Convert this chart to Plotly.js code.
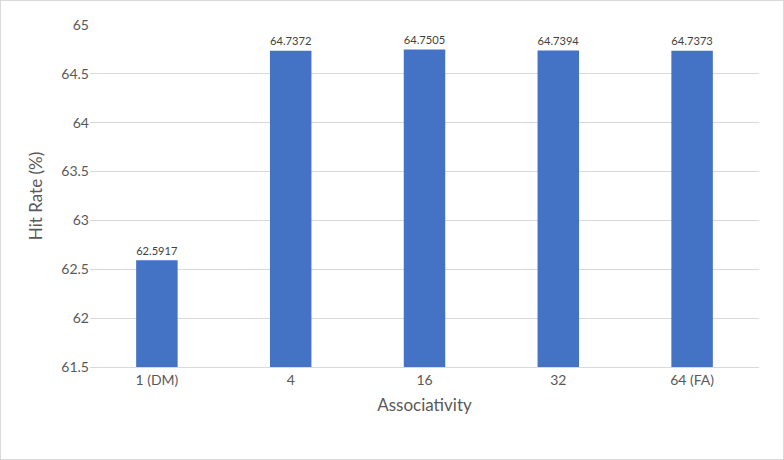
<!DOCTYPE html>
<html><head><script src="https://cdn.plot.ly/plotly-3.0.1.min.js"></script>
<style>body{margin:0}#c{width:782px;height:458px;border:1px solid #d9d9d9}</style></head>
<body><div id="c"></div><script>
const categories=["1 (DM)","4","16","32","64 (FA)"];
const hitRate=[62.5917,64.7372,64.7505,64.7394,64.7373];
const labels=["62.5917","64.7372","64.7505","64.7394","64.7373"];
Plotly.newPlot('c',[{type:'bar',x:categories,y:hitRate,text:labels,textposition:'outside',
 textfont:{size:15,color:'#404040'},marker:{color:'#4472c4'},cliponaxis:false}],
{width:782,height:458,margin:{l:89,r:24,t:24,b:92},bargap:0.69,
 paper_bgcolor:'#fff',plot_bgcolor:'#fff',font:{family:'Lato, Open Sans, sans-serif',color:'#595959',size:14},
 xaxis:{type:'category',title:{text:'Associativity',font:{size:17},standoff:12},showline:true,linecolor:'#d9d9d9',ticks:''},
 yaxis:{title:{text:'Hit Rate (%)',font:{size:17},standoff:14},range:[61.5,65],dtick:0.5,gridcolor:'#d9d9d9',zeroline:false,ticks:''},
 showlegend:false},{displayModeBar:false});
</script></body></html>
